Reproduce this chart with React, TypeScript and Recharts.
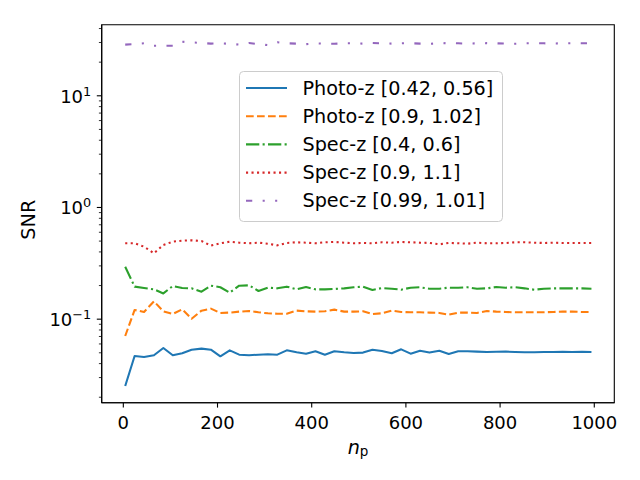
import React from 'react';
import { LineChart, Line, XAxis, YAxis, Legend, ReferenceArea, Label } from 'recharts';

// number of points n_p
const nP = [
  4, 24, 44, 65, 85, 105, 125, 145, 166, 186, 206, 226, 246, 267, 287, 307, 327, 347, 368, 388,
  408, 428, 448, 469, 489, 509, 529, 549, 570, 590, 610, 630, 650, 671, 691, 711, 731, 751, 772, 792,
  812, 832, 852, 873, 893, 913, 933, 953, 974, 994,
];

const photoLow = [
  0.0252, 0.0468, 0.0459, 0.0475, 0.0552, 0.0475, 0.0495, 0.0533, 0.0545, 0.0533,
  0.0465, 0.0526, 0.0481, 0.0475, 0.0481, 0.0485, 0.0481, 0.0526, 0.0505, 0.0491,
  0.0516, 0.0481, 0.0516, 0.0505, 0.0498, 0.0502, 0.0533, 0.0519, 0.0495, 0.0537,
  0.0491, 0.0522, 0.0502, 0.0522, 0.0488, 0.0516, 0.0516, 0.0512, 0.0508, 0.051,
  0.0512, 0.0508, 0.0505, 0.0505, 0.0508, 0.0508, 0.051, 0.0508, 0.051, 0.0508,
];

const photoHigh = [
  0.0707, 0.1209, 0.116, 0.1445, 0.1176, 0.1113, 0.1226, 0.101, 0.1192, 0.1242,
  0.1137, 0.1145, 0.1168, 0.1184, 0.1152, 0.1128, 0.112, 0.112, 0.1192, 0.1176,
  0.1168, 0.1176, 0.1217, 0.1168, 0.1168, 0.1176, 0.1113, 0.1128, 0.1192, 0.116,
  0.1152, 0.1152, 0.1145, 0.1137, 0.1097, 0.1145, 0.1145, 0.1137, 0.1184, 0.1168,
  0.116, 0.1152, 0.1152, 0.1152, 0.1152, 0.116, 0.1168, 0.1168, 0.116, 0.116,
];

const specLow = [
  0.295, 0.1955, 0.19, 0.1849, 0.17, 0.198, 0.19, 0.1888, 0.1762, 0.1995,
  0.193, 0.1726, 0.1995, 0.201, 0.1787, 0.1914, 0.1888, 0.1955, 0.1849, 0.194,
  0.1849, 0.1849, 0.1862, 0.1888, 0.193, 0.1955, 0.1824, 0.19, 0.1875, 0.1836,
  0.1914, 0.193, 0.1875, 0.1875, 0.1914, 0.1914, 0.193, 0.1875, 0.1888, 0.194,
  0.1914, 0.193, 0.1888, 0.1836, 0.1875, 0.1888, 0.1888, 0.1888, 0.1888, 0.1875,
];

const specHigh = [
  0.478, 0.478, 0.446, 0.389, 0.462, 0.494, 0.505, 0.508, 0.501, 0.455,
  0.478, 0.494, 0.484, 0.478, 0.484, 0.474, 0.458, 0.481, 0.488, 0.484,
  0.478, 0.488, 0.491, 0.484, 0.478, 0.481, 0.478, 0.488, 0.484, 0.491,
  0.488, 0.484, 0.481, 0.468, 0.481, 0.478, 0.474, 0.484, 0.478, 0.478,
  0.481, 0.488, 0.488, 0.484, 0.481, 0.484, 0.481, 0.481, 0.481, 0.481,
];

const specNarrow = [
  28.7, 29.0, 29.5, 28.1, 28.1, 28.1, 30.5, 30.1, 29.7, 29.3,
  29.5, 29.2, 28.7, 29.7, 29.0, 28.4, 30.1, 29.5, 29.3, 29.0,
  29.5, 29.3, 29.2, 29.5, 29.5, 29.3, 29.7, 29.5, 29.3, 29.5,
  29.6, 29.3, 29.2, 29.5, 29.7, 29.5, 29.3, 29.5, 29.6, 29.5,
  29.3, 29.2, 29.5, 29.6, 29.5, 29.4, 29.5, 29.6, 29.5, 29.5,
];

const xTicks = [0, 200, 400, 600, 800, 1000];
// major decades plus matplotlib-style minor ticks
const yTicks = [
  0.02, 0.03, 0.04, 0.05, 0.06, 0.07, 0.08, 0.09,
  0.1, 0.2, 0.3, 0.4, 0.5, 0.6, 0.7, 0.8, 0.9,
  1, 2, 3, 4, 5, 6, 7, 8, 9,
  10, 20, 30, 40,
];

const X_DOMAIN = [-45.9, 1042.5];
const Y_DOMAIN = [0.01787, 43.3];

const FONT = '"DejaVu Sans", sans-serif';

const seriesDefs = [
  { key: 'photoLow', name: 'Photo-z [0.42, 0.56]', color: '#1f77b4', dash: undefined },
  { key: 'photoHigh', name: 'Photo-z [0.9, 1.02]', color: '#ff7f0e', dash: '7.7 3.3' },
  { key: 'specLow', name: 'Spec-z [0.4, 0.6]', color: '#2ca02c', dash: '13.3 3.3 2.1 3.3' },
  { key: 'specHigh', name: 'Spec-z [0.9, 1.1]', color: '#d62728', dash: '2.1 3.4' },
  { key: 'specNarrow', name: 'Spec-z [0.99, 1.01]', color: '#9467bd', dash: '6.25 10.4 2.08 10.4 2.08 10.4' },
];

const data = nP.map((n, i) => ({
  n,
  photoLow: photoLow[i],
  photoHigh: photoHigh[i],
  specLow: specLow[i],
  specHigh: specHigh[i],
  specNarrow: specNarrow[i],
}));

const LogTick = (props: any) => {
  const { x, y, payload } = props;
  const lg = Math.log10(payload.value);
  const exp = Math.round(lg);
  const major = Math.abs(lg - exp) < 1e-6;
  const len = major ? 4.9 : 2.8;
  return (
    <g>
      <line x1={x - len} x2={x} y1={y} y2={y} stroke="#000" strokeWidth={major ? 1.1 : 0.8} />
      {major && (
        <text x={x - 10.5} y={y} textAnchor="end" dominantBaseline="central" fontFamily={FONT} fontSize={18} fill="#000">
          <tspan>10</tspan>
          <tspan dy={-5} fontSize={12.8}>{exp < 0 ? `\u2212${-exp}` : `${exp}`}</tspan>
        </text>
      )}
    </g>
  );
};

const LegendBox = () => (
  <svg width={264} height={151} style={{ display: 'block' }}>
    <rect x={0.5} y={0.5} width={263} height={150} rx={4} ry={4} fill="rgba(255,255,255,0.8)" stroke="#cccccc" strokeWidth={1} />
    {seriesDefs.map((s, i) => {
      const cy = 17 + 28.2 * i;
      return (
        <g key={s.key}>
          <line x1={7} x2={48} y1={cy} y2={cy} stroke={s.color} strokeWidth={2.08} strokeDasharray={s.dash} />
          <text x={63.5} y={cy} dominantBaseline="central" fontFamily={FONT} fontSize={19.2} fill="#000">
            {s.name}
          </text>
        </g>
      );
    })}
  </svg>
);

const XLabel = (props: any) => {
  const { viewBox } = props;
  const cx = viewBox.x + viewBox.width / 2;
  const cy = viewBox.y + 44;
  return (
    <text x={cx} y={cy} textAnchor="middle" dominantBaseline="central" fontFamily={FONT} fontSize={19.2} fill="#000">
      <tspan fontStyle="italic">n</tspan>
      <tspan fontSize={13.5} dy={4}>p</tspan>
    </text>
  );
};

const YLabel = (props: any) => {
  const { viewBox } = props;
  const cx = viewBox.x + 17;
  const cy = viewBox.y + viewBox.height / 2 + 6;
  return (
    <text x={cx} y={cy} textAnchor="middle" dominantBaseline="central" fontFamily={FONT} fontSize={19.2} fill="#000" transform={`rotate(-90, ${cx}, ${cy})`}>
      SNR
    </text>
  );
};

export default function App() {
  return (
    <div style={{ position: 'absolute', left: 0, top: 0, width: 640, height: 480, background: '#fff' }}>
      <LineChart width={640} height={480} data={data} margin={{ top: 24.7, right: 25.7, bottom: 27.3, left: 11.7 }}>
        <XAxis
          dataKey="n"
          type="number"
          domain={X_DOMAIN}
          allowDataOverflow
          ticks={xTicks}
          interval={0}
          height={50}
          stroke="#000"
          axisLine={{ stroke: '#000', strokeWidth: 1.1 }}
          tickLine={{ stroke: '#000', strokeWidth: 1.1 }}
          tickSize={4.9}
          tickMargin={8.4}
          tick={{ fontSize: 18, fill: '#000', fontFamily: FONT }}
        >
          <Label content={<XLabel />} />
        </XAxis>
        <YAxis
          scale="log"
          type="number"
          domain={Y_DOMAIN}
          allowDataOverflow
          ticks={yTicks}
          interval={0}
          width={90}
          axisLine={{ stroke: '#000', strokeWidth: 1.1 }}
          tickLine={false}
          tickSize={0}
          tickMargin={0}
          tick={<LogTick />}
        >
          <Label content={<YLabel />} />
        </YAxis>
        {seriesDefs.map((s) => (
          <Line
            key={s.key}
            type="linear"
            dataKey={s.key}
            name={s.name}
            stroke={s.color}
            strokeWidth={2.08}
            strokeDasharray={s.dash}
            strokeLinejoin="round"
            dot={false}
            activeDot={false}
            isAnimationActive={false}
          />
        ))}
        <ReferenceArea
          x1={X_DOMAIN[0]}
          x2={X_DOMAIN[1]}
          y1={Y_DOMAIN[0]}
          y2={Y_DOMAIN[1]}
          fill="none"
          stroke="#000"
          strokeWidth={1.1}
          ifOverflow="visible"
        />
        <Legend
          layout="vertical"
          align="center"
          verticalAlign="middle"
          content={() => <LegendBox />}
          wrapperStyle={{ position: 'absolute', left: 239, top: 71, width: 264, height: 151 }}
        />
      </LineChart>
    </div>
  );
}
